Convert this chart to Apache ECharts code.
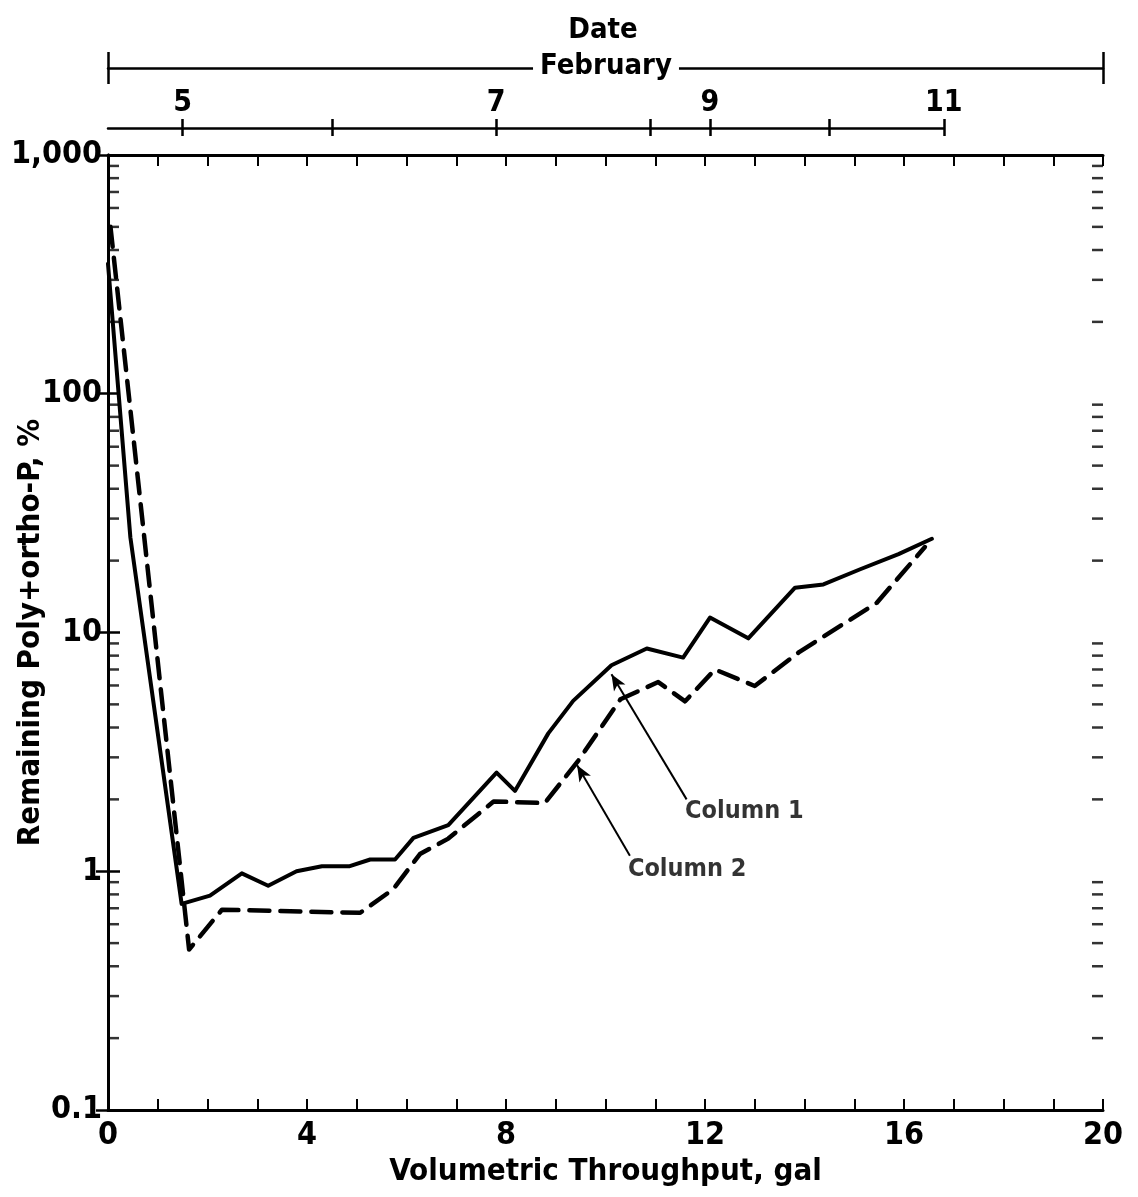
<!DOCTYPE html>
<html>
<head>
<meta charset="utf-8">
<script src="https://cdn.jsdelivr.net/npm/echarts@6/dist/echarts.min.js"></script>
<style>
html,body{margin:0;padding:0;background:#fff;}
#chart{width:1138px;height:1197px;}
</style>
</head>
<body>
<div id="chart"></div>
<script>
// ---- data ----
const col1X = [0, 0.45, 1.48, 2.05, 2.69, 3.22, 3.79, 4.30, 4.86, 5.27, 5.77, 6.14, 6.84, 7.81, 8.18, 8.85, 9.35, 10.12, 10.83, 11.56, 12.10, 12.87, 13.81, 14.38, 15.12, 15.89, 16.56];
const col1Y = [350, 25, 0.73, 0.79, 0.98, 0.87, 1.0, 1.05, 1.05, 1.12, 1.12, 1.38, 1.56, 2.59, 2.17, 3.78, 5.17, 7.29, 8.57, 7.85, 11.55, 9.45, 15.4, 15.9, 18.4, 21.3, 24.7];
const col2X = [0.05, 1.63, 2.29, 5.07, 5.73, 6.27, 6.84, 7.75, 8.78, 9.45, 10.30, 11.06, 11.60, 12.20, 13.00, 13.90, 15.45, 16.42];
const col2Y = [500, 0.47, 0.69, 0.67, 0.84, 1.18, 1.37, 1.96, 1.93, 2.90, 5.25, 6.20, 5.15, 7.00, 5.97, 8.30, 13.3, 22.8];

const xTickLabels = [0, 4, 8, 12, 16, 20];
const yTickLabels = {0.1: '0.1', 1: '1', 10: '10', 100: '100', 1000: '1,000'};

const dateTickPos = [1.5, 4.5, 7.8, 10.9, 12.1, 14.5, 16.8];
const dateLabelPos = [1.5, 7.8, 12.1, 16.8];
const dateLabelText = ['5', '7', '9', '11'];
const dateAxisEnd = 16.8;
const bracketEnds = [0, 20];

const annotNames = ['Column 1', 'Column 2'];
const annotTextPos = [[11.6, 1.78], [10.45, 1.02]];
const arrowTail = [[11.63, 2.0], [10.49, 1.16]];
const arrowTip = [[10.12, 6.68], [9.43, 2.78]];

const minorMultipliers = [2, 3, 4, 5, 6, 7, 8, 9];
const decades = [0.1, 1, 10, 100];

// ---- build ----
const pairs = (xs, ys) => xs.map((x, i) => [x, ys[i]]);
const minorVals = [];
decades.forEach(d => minorMultipliers.forEach(m => minorVals.push(+(d * m).toPrecision(3))));

const FONT = "'DejaVu Sans Condensed', 'Liberation Sans Narrow', 'DejaVu Sans', sans-serif";
const black = '#000';

const chart = echarts.init(document.getElementById('chart'), null, {renderer: 'canvas'});

const gL = 108, gR = 35;
const unitPx = (1138 - gL - gR) / 20;

const option = {
  backgroundColor: '#fff',
  animation: false,
  grid: [
    {left: gL, right: gR, top: 155, bottom: 87, containLabel: false, outerBoundsMode: 'none'},
    {left: gL, right: gR, top: 40, height: 28, containLabel: false, outerBoundsMode: 'none'},
    {left: gL, width: unitPx * dateAxisEnd, top: 100, height: 28, containLabel: false, outerBoundsMode: 'none'}
  ],
  xAxis: [
    { gridIndex: 0, type: 'value', min: 0, max: 20, interval: 1, position: 'bottom',
      name: 'Volumetric Throughput, gal', nameLocation: 'middle', nameGap: 46,
      nameTextStyle: {fontFamily: FONT, fontSize: 31, fontWeight: 'bold', color: black},
      axisLine: {show: true, lineStyle: {color: black, width: 3}},
      axisTick: {show: true, inside: true, length: 11, lineStyle: {color: black, width: 2}},
      axisLabel: {margin: 10, fontFamily: FONT, fontSize: 32, fontWeight: 'bold', color: black,
        formatter: v => xTickLabels.indexOf(v) >= 0 ? String(v) : ''},
      splitLine: {show: false} },
    { gridIndex: 0, type: 'value', min: 0, max: 20, interval: 1, position: 'top',
      axisLine: {show: true, lineStyle: {color: black, width: 3}},
      axisTick: {show: true, inside: true, length: 11, lineStyle: {color: black, width: 2}},
      axisLabel: {show: false}, splitLine: {show: false} },
    { gridIndex: 1, type: 'value', min: 0, max: 20, position: 'bottom',
      axisLine: {show: true, lineStyle: {color: black, width: 2.5}},
      axisTick: {show: true, inside: true, length: 16, customValues: bracketEnds, lineStyle: {color: black, width: 2.5}},
      axisLabel: {show: false}, splitLine: {show: false} },
    { gridIndex: 1, type: 'value', min: 0, max: 20, position: 'bottom',
      axisLine: {show: false},
      axisTick: {show: true, inside: false, length: 16, customValues: bracketEnds, lineStyle: {color: black, width: 2.5}},
      axisLabel: {show: false}, splitLine: {show: false} },
    { gridIndex: 2, type: 'value', min: 0, max: dateAxisEnd, position: 'bottom',
      axisLine: {show: true, lineStyle: {color: black, width: 2.5}},
      axisTick: {show: true, inside: true, length: 9, customValues: dateTickPos, lineStyle: {color: black, width: 2.5}},
      axisLabel: {show: true, inside: true, margin: 10, customValues: dateLabelPos,
        fontFamily: FONT, fontSize: 30, fontWeight: 'bold', color: black,
        formatter: v => { const i = dateLabelPos.findIndex(p => Math.abs(p - v) < 1e-6); return i >= 0 ? dateLabelText[i] : ''; }},
      splitLine: {show: false} },
    { gridIndex: 2, type: 'value', min: 0, max: dateAxisEnd, position: 'bottom',
      axisLine: {show: false},
      axisTick: {show: true, inside: false, length: 8, customValues: dateTickPos, lineStyle: {color: black, width: 2.5}},
      axisLabel: {show: false}, splitLine: {show: false} }
  ],
  yAxis: [
    { gridIndex: 0, type: 'log', min: 0.1, max: 1000, logBase: 10, position: 'left',
      name: 'Remaining Poly+ortho-P, %', nameLocation: 'middle', nameGap: 62, nameRotate: 90,
      nameMoveOverlap: false,
      nameTextStyle: {fontFamily: FONT, fontSize: 31, fontWeight: 'bold', color: black},
      axisLine: {show: true, lineStyle: {color: black, width: 3}},
      axisTick: {show: true, inside: true, length: 12, lineStyle: {color: black, width: 2.5}},
      axisLabel: {margin: 6, fontFamily: FONT, fontSize: 32, fontWeight: 'bold', color: black,
        formatter: v => { const k = Object.keys(yTickLabels).find(t => Math.abs(+t - v) / v < 1e-6); return k ? yTickLabels[k] : ''; }},
      splitLine: {show: false} },
    { gridIndex: 0, type: 'log', min: 0.1, max: 1000, logBase: 10, position: 'right',
      axisLine: {show: true, lineStyle: {color: black, width: 3}},
      axisTick: {show: true, inside: true, length: 12, lineStyle: {color: black, width: 2.5}},
      axisLabel: {show: false}, splitLine: {show: false} },
    { gridIndex: 1, type: 'value', min: 0, max: 1, show: false },
    { gridIndex: 2, type: 'value', min: 0, max: 1, show: false }
  ],
  graphic: [
    { type: 'text', x: 603, y: 30, style: {text: 'Date', fill: black, font: "bold 29px " + FONT, textAlign: 'center', textVerticalAlign: 'middle'} },
    { type: 'text', x: 606, y: 66, z: 100, style: {text: 'February', fill: black, font: "bold 29px " + FONT, textAlign: 'center', textVerticalAlign: 'middle', backgroundColor: '#fff', padding: [2, 7]} }
  ],
  series: [
    { name: 'Column 1', type: 'line', xAxisIndex: 0, yAxisIndex: 0, data: pairs(col1X, col1Y),
      symbol: 'none', smooth: false, clip: false,
      lineStyle: {color: black, width: 4, join: 'round', cap: 'round'},
      markLine: { silent: true, symbol: ['none', 'arrow'], symbolSize: [10, 16], label: {show: false},
        lineStyle: {color: black, width: 2, type: 'solid'},
        data: arrowTail.map((t, i) => [{coord: t}, {coord: arrowTip[i]}]) } },
    { name: 'Column 2', type: 'line', xAxisIndex: 0, yAxisIndex: 0, data: pairs(col2X, col2Y),
      symbol: 'none', smooth: false, clip: false,
      lineStyle: {color: black, width: 4.5, type: [20, 11], cap: 'round', join: 'round'} },
    { type: 'scatter', xAxisIndex: 0, yAxisIndex: 0, silent: true, clip: false,
      data: minorVals.map(v => [0, v]), symbol: 'rect', symbolSize: [11, 2.5], symbolOffset: [5.5, 0],
      itemStyle: {color: black} },
    { type: 'scatter', xAxisIndex: 0, yAxisIndex: 0, silent: true, clip: false,
      data: minorVals.map(v => [20, v]), symbol: 'rect', symbolSize: [11, 2.5], symbolOffset: [-5.5, 0],
      itemStyle: {color: black} },
    { type: 'scatter', xAxisIndex: 0, yAxisIndex: 0, silent: true, clip: false,
      data: annotTextPos.map((p, i) => ({value: p, name: annotNames[i]})), symbolSize: 0,
      label: {show: true, position: 'right', distance: 0, formatter: '{b}',
        fontFamily: FONT, fontSize: 25, fontWeight: 'bold', color: black} }
  ]
};
chart.setOption(option);
</script>
</body>
</html>
